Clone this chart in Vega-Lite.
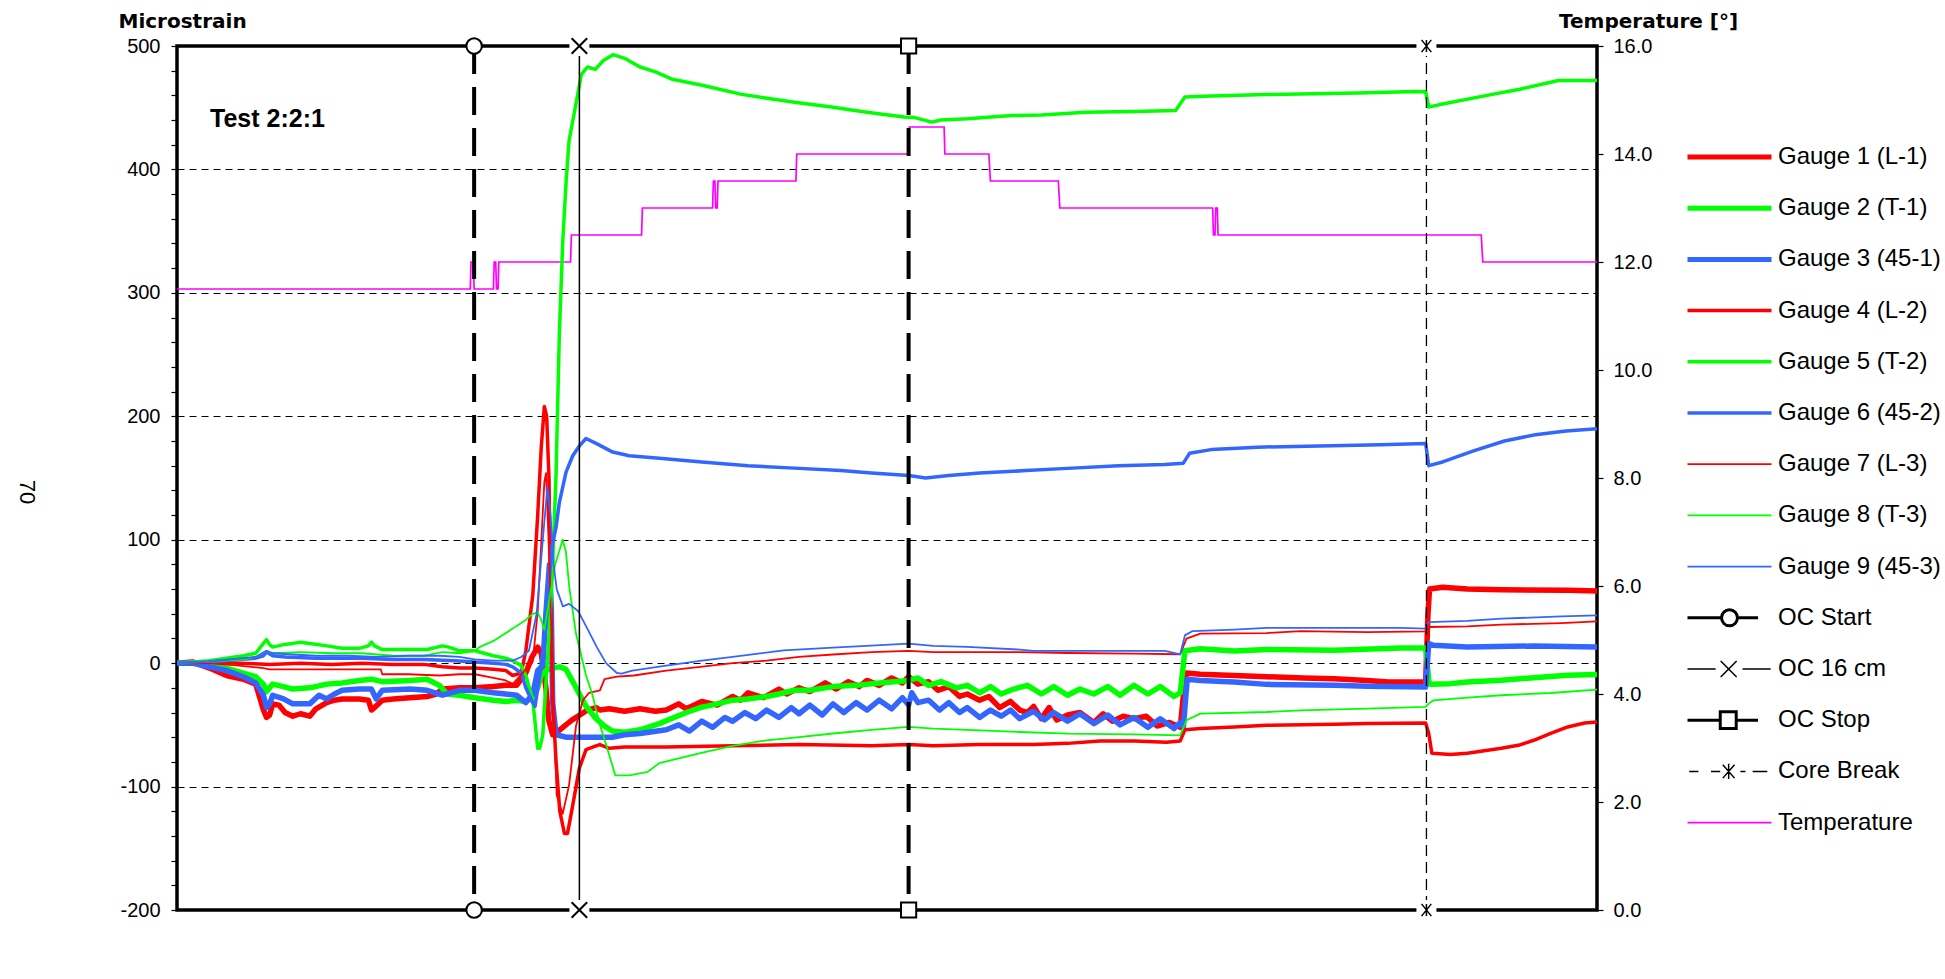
{
"$schema": "https://vega.github.io/schema/vega-lite/v6.json",
"width": 1420, "height": 864,
"autosize": {"type": "none"},
"padding": {"left": 177, "top": 46, "right": 348, "bottom": 69},
"background": "white",
"title": {"text": "70", "orient": "left", "anchor": "middle", "angle": 90, "baseline": "middle", "fontSize": 22, "font": "Liberation Sans", "fontWeight": "normal", "color": "black", "offset": 69, "dx": 14, "dy": 0},
"config": {
  "view": {"stroke": "black", "strokeWidth": 3.5},
  "font": "Liberation Sans",
  "axis": {"domain": false, "labelFont": "Liberation Sans", "labelFontSize": 20, "labelColor": "black", "tickColor": "black", "tickWidth": 1.2, "titleColor": "black"}
},
"data": {"name": "gauges"},
"datasets": {
"events": [{"series":"OC Start","t":477.25},{"series":"OC 16 cm","t":484.07},{"series":"OC Stop","t":505.4},{"series":"Core Break","t":538.95}],
"legend": [{"series":"Gauge 1 (L-1)"},{"series":"Gauge 2 (T-1)"},{"series":"Gauge 3 (45-1)"},{"series":"Gauge 4 (L-2)"},{"series":"Gauge 5 (T-2)"},{"series":"Gauge 6 (45-2)"},{"series":"Gauge 7 (L-3)"},{"series":"Gauge 8 (T-3)"},{"series":"Gauge 9 (45-3)"},{"series":"OC Start"},{"series":"OC 16 cm"},{"series":"OC Stop"},{"series":"Core Break"},{"series":"Temperature"}],
"temp": [{"t":458,"T":11.5},{"t":477.0,"T":11.5},{"t":477.05,"T":12.0},{"t":477.2,"T":12.0},{"t":477.25,"T":11.5},{"t":478.5,"T":11.5},{"t":478.55,"T":12.0},{"t":478.65,"T":12.0},{"t":478.7,"T":11.5},{"t":478.8,"T":11.5},{"t":478.85,"T":12.0},{"t":483.5,"T":12.0},{"t":483.55,"T":12.5},{"t":488.1,"T":12.5},{"t":488.15,"T":13.0},{"t":492.7,"T":13.0},{"t":492.75,"T":13.5},{"t":492.85,"T":13.5},{"t":492.9,"T":13.0},{"t":493.0,"T":13.0},{"t":493.05,"T":13.5},{"t":498.1,"T":13.5},{"t":498.15,"T":14.0},{"t":505.4,"T":14.0},{"t":505.45,"T":14.5},{"t":507.7,"T":14.5},{"t":507.75,"T":14.0},{"t":510.6,"T":14.0},{"t":510.7,"T":13.5},{"t":515.1,"T":13.5},{"t":515.2,"T":13.0},{"t":525.1,"T":13.0},{"t":525.15,"T":12.5},{"t":525.25,"T":12.5},{"t":525.3,"T":13.0},{"t":525.4,"T":13.0},{"t":525.45,"T":12.5},{"t":542.5,"T":12.5},{"t":542.6,"T":12.0},{"t":550,"T":12.0}],
"gauges": [
{"series":"Gauge 1 (L-1)","t":458,"v":0},{"series":"Gauge 1 (L-1)","t":459,"v":1},{"series":"Gauge 1 (L-1)","t":460.1,"v":-4},{"series":"Gauge 1 (L-1)","t":461.2,"v":-10},{"series":"Gauge 1 (L-1)","t":462.3,"v":-13},{"series":"Gauge 1 (L-1)","t":463.1,"v":-17},{"series":"Gauge 1 (L-1)","t":463.6,"v":-38},{"series":"Gauge 1 (L-1)","t":463.8,"v":-44},{"series":"Gauge 1 (L-1)","t":464.0,"v":-42},{"series":"Gauge 1 (L-1)","t":464.2,"v":-33},{"series":"Gauge 1 (L-1)","t":464.6,"v":-34},{"series":"Gauge 1 (L-1)","t":465.0,"v":-40},{"series":"Gauge 1 (L-1)","t":465.5,"v":-43},{"series":"Gauge 1 (L-1)","t":466.0,"v":-41},{"series":"Gauge 1 (L-1)","t":466.6,"v":-43},{"series":"Gauge 1 (L-1)","t":467.0,"v":-37},{"series":"Gauge 1 (L-1)","t":467.7,"v":-32},{"series":"Gauge 1 (L-1)","t":468.2,"v":-30},{"series":"Gauge 1 (L-1)","t":468.7,"v":-29},{"series":"Gauge 1 (L-1)","t":469.8,"v":-29},{"series":"Gauge 1 (L-1)","t":470.4,"v":-30},{"series":"Gauge 1 (L-1)","t":470.6,"v":-38},{"series":"Gauge 1 (L-1)","t":470.8,"v":-36},{"series":"Gauge 1 (L-1)","t":471.3,"v":-30},{"series":"Gauge 1 (L-1)","t":472.0,"v":-29},{"series":"Gauge 1 (L-1)","t":473.1,"v":-28},{"series":"Gauge 1 (L-1)","t":474.2,"v":-27},{"series":"Gauge 1 (L-1)","t":474.8,"v":-25},{"series":"Gauge 1 (L-1)","t":475.2,"v":-21},{"series":"Gauge 1 (L-1)","t":476.3,"v":-20},{"series":"Gauge 1 (L-1)","t":477.3,"v":-20},{"series":"Gauge 1 (L-1)","t":478.5,"v":-19},{"series":"Gauge 1 (L-1)","t":479.3,"v":-18},{"series":"Gauge 1 (L-1)","t":480.0,"v":-18},{"series":"Gauge 1 (L-1)","t":480.6,"v":-8},{"series":"Gauge 1 (L-1)","t":481.0,"v":5},{"series":"Gauge 1 (L-1)","t":481.37,"v":13},{"series":"Gauge 1 (L-1)","t":481.6,"v":8},{"series":"Gauge 1 (L-1)","t":481.9,"v":-20},{"series":"Gauge 1 (L-1)","t":482.1,"v":-47},{"series":"Gauge 1 (L-1)","t":482.34,"v":-58},{"series":"Gauge 1 (L-1)","t":482.7,"v":-55},{"series":"Gauge 1 (L-1)","t":483.2,"v":-50},{"series":"Gauge 1 (L-1)","t":483.6,"v":-46},{"series":"Gauge 1 (L-1)","t":484.1,"v":-42},{"series":"Gauge 1 (L-1)","t":484.6,"v":-38},{"series":"Gauge 1 (L-1)","t":485.15,"v":-36},{"series":"Gauge 1 (L-1)","t":485.4,"v":-38},{"series":"Gauge 1 (L-1)","t":486.0,"v":-37},{"series":"Gauge 1 (L-1)","t":487.0,"v":-39},{"series":"Gauge 1 (L-1)","t":488.0,"v":-37},{"series":"Gauge 1 (L-1)","t":489.0,"v":-39},{"series":"Gauge 1 (L-1)","t":489.7,"v":-38},{"series":"Gauge 1 (L-1)","t":490.5,"v":-33},{"series":"Gauge 1 (L-1)","t":491.0,"v":-37},{"series":"Gauge 1 (L-1)","t":492.0,"v":-31},{"series":"Gauge 1 (L-1)","t":493.0,"v":-34},{"series":"Gauge 1 (L-1)","t":494.0,"v":-27},{"series":"Gauge 1 (L-1)","t":494.5,"v":-30},{"series":"Gauge 1 (L-1)","t":495.0,"v":-24},{"series":"Gauge 1 (L-1)","t":496.0,"v":-28},{"series":"Gauge 1 (L-1)","t":497.0,"v":-21},{"series":"Gauge 1 (L-1)","t":497.5,"v":-25},{"series":"Gauge 1 (L-1)","t":498.3,"v":-20},{"series":"Gauge 1 (L-1)","t":499.0,"v":-23},{"series":"Gauge 1 (L-1)","t":500.0,"v":-16},{"series":"Gauge 1 (L-1)","t":500.7,"v":-21},{"series":"Gauge 1 (L-1)","t":501.5,"v":-15},{"series":"Gauge 1 (L-1)","t":502.2,"v":-19},{"series":"Gauge 1 (L-1)","t":502.7,"v":-14},{"series":"Gauge 1 (L-1)","t":503.5,"v":-18},{"series":"Gauge 1 (L-1)","t":504.3,"v":-12},{"series":"Gauge 1 (L-1)","t":505.0,"v":-16},{"series":"Gauge 1 (L-1)","t":505.4,"v":-11},{"series":"Gauge 1 (L-1)","t":506.0,"v":-17},{"series":"Gauge 1 (L-1)","t":506.7,"v":-15},{"series":"Gauge 1 (L-1)","t":507.3,"v":-22},{"series":"Gauge 1 (L-1)","t":508.0,"v":-19},{"series":"Gauge 1 (L-1)","t":508.7,"v":-27},{"series":"Gauge 1 (L-1)","t":509.2,"v":-25},{"series":"Gauge 1 (L-1)","t":510.0,"v":-30},{"series":"Gauge 1 (L-1)","t":510.6,"v":-27},{"series":"Gauge 1 (L-1)","t":511.3,"v":-36},{"series":"Gauge 1 (L-1)","t":512.0,"v":-31},{"series":"Gauge 1 (L-1)","t":512.6,"v":-38},{"series":"Gauge 1 (L-1)","t":513.1,"v":-40},{"series":"Gauge 1 (L-1)","t":513.5,"v":-35},{"series":"Gauge 1 (L-1)","t":514.0,"v":-45},{"series":"Gauge 1 (L-1)","t":514.5,"v":-36},{"series":"Gauge 1 (L-1)","t":515.0,"v":-46},{"series":"Gauge 1 (L-1)","t":515.7,"v":-42},{"series":"Gauge 1 (L-1)","t":516.5,"v":-40},{"series":"Gauge 1 (L-1)","t":517.4,"v":-48},{"series":"Gauge 1 (L-1)","t":518.0,"v":-41},{"series":"Gauge 1 (L-1)","t":518.6,"v":-47},{"series":"Gauge 1 (L-1)","t":519.3,"v":-43},{"series":"Gauge 1 (L-1)","t":520.0,"v":-45},{"series":"Gauge 1 (L-1)","t":520.8,"v":-43},{"series":"Gauge 1 (L-1)","t":521.5,"v":-51},{"series":"Gauge 1 (L-1)","t":522.3,"v":-48},{"series":"Gauge 1 (L-1)","t":523.0,"v":-52},{"series":"Gauge 1 (L-1)","t":523.25,"v":-20},{"series":"Gauge 1 (L-1)","t":523.4,"v":-8},{"series":"Gauge 1 (L-1)","t":524.3,"v":-9},{"series":"Gauge 1 (L-1)","t":526.5,"v":-10},{"series":"Gauge 1 (L-1)","t":528.6,"v":-11},{"series":"Gauge 1 (L-1)","t":531,"v":-12},{"series":"Gauge 1 (L-1)","t":533,"v":-12.6},{"series":"Gauge 1 (L-1)","t":535.1,"v":-14},{"series":"Gauge 1 (L-1)","t":536.5,"v":-15.3},{"series":"Gauge 1 (L-1)","t":538.9,"v":-15.3},{"series":"Gauge 1 (L-1)","t":539.05,"v":40},{"series":"Gauge 1 (L-1)","t":539.15,"v":60},{"series":"Gauge 1 (L-1)","t":540,"v":61.5},{"series":"Gauge 1 (L-1)","t":541.6,"v":60},{"series":"Gauge 1 (L-1)","t":543.8,"v":59.5},{"series":"Gauge 1 (L-1)","t":548.1,"v":59},{"series":"Gauge 1 (L-1)","t":550,"v":58.5},
{"series":"Gauge 2 (T-1)","t":458,"v":0},{"series":"Gauge 2 (T-1)","t":459,"v":0},{"series":"Gauge 2 (T-1)","t":460.1,"v":-1},{"series":"Gauge 2 (T-1)","t":461.2,"v":-4},{"series":"Gauge 2 (T-1)","t":462.3,"v":-8},{"series":"Gauge 2 (T-1)","t":463.1,"v":-11},{"series":"Gauge 2 (T-1)","t":463.6,"v":-17},{"series":"Gauge 2 (T-1)","t":463.8,"v":-23},{"series":"Gauge 2 (T-1)","t":464.2,"v":-17},{"series":"Gauge 2 (T-1)","t":464.9,"v":-19},{"series":"Gauge 2 (T-1)","t":465.5,"v":-21},{"series":"Gauge 2 (T-1)","t":466.6,"v":-20},{"series":"Gauge 2 (T-1)","t":467.7,"v":-17},{"series":"Gauge 2 (T-1)","t":468.7,"v":-16},{"series":"Gauge 2 (T-1)","t":469.8,"v":-14},{"series":"Gauge 2 (T-1)","t":470.6,"v":-13},{"series":"Gauge 2 (T-1)","t":471.3,"v":-15},{"series":"Gauge 2 (T-1)","t":473.1,"v":-14},{"series":"Gauge 2 (T-1)","t":474.2,"v":-13},{"series":"Gauge 2 (T-1)","t":475.0,"v":-18},{"series":"Gauge 2 (T-1)","t":475.5,"v":-25},{"series":"Gauge 2 (T-1)","t":476.3,"v":-26},{"series":"Gauge 2 (T-1)","t":477.3,"v":-28},{"series":"Gauge 2 (T-1)","t":478.5,"v":-30},{"series":"Gauge 2 (T-1)","t":479.3,"v":-31},{"series":"Gauge 2 (T-1)","t":480.0,"v":-30},{"series":"Gauge 2 (T-1)","t":480.6,"v":-31},{"series":"Gauge 2 (T-1)","t":481.05,"v":-28},{"series":"Gauge 2 (T-1)","t":481.37,"v":-20},{"series":"Gauge 2 (T-1)","t":481.6,"v":-10},{"series":"Gauge 2 (T-1)","t":481.9,"v":-6},{"series":"Gauge 2 (T-1)","t":482.3,"v":-4},{"series":"Gauge 2 (T-1)","t":482.8,"v":-3},{"series":"Gauge 2 (T-1)","t":483.2,"v":-5},{"series":"Gauge 2 (T-1)","t":483.64,"v":-15},{"series":"Gauge 2 (T-1)","t":484.07,"v":-25},{"series":"Gauge 2 (T-1)","t":484.5,"v":-35},{"series":"Gauge 2 (T-1)","t":485.15,"v":-45},{"series":"Gauge 2 (T-1)","t":485.7,"v":-51},{"series":"Gauge 2 (T-1)","t":486.2,"v":-55},{"series":"Gauge 2 (T-1)","t":487.0,"v":-56},{"series":"Gauge 2 (T-1)","t":488.0,"v":-54},{"series":"Gauge 2 (T-1)","t":489.25,"v":-49},{"series":"Gauge 2 (T-1)","t":490.0,"v":-45},{"series":"Gauge 2 (T-1)","t":491.0,"v":-40},{"series":"Gauge 2 (T-1)","t":491.9,"v":-36},{"series":"Gauge 2 (T-1)","t":493.0,"v":-33},{"series":"Gauge 2 (T-1)","t":494.0,"v":-30},{"series":"Gauge 2 (T-1)","t":495.0,"v":-29},{"series":"Gauge 2 (T-1)","t":496.2,"v":-27},{"series":"Gauge 2 (T-1)","t":497.0,"v":-25},{"series":"Gauge 2 (T-1)","t":498.0,"v":-22},{"series":"Gauge 2 (T-1)","t":499.0,"v":-22},{"series":"Gauge 2 (T-1)","t":500.5,"v":-19},{"series":"Gauge 2 (T-1)","t":502.0,"v":-18},{"series":"Gauge 2 (T-1)","t":503.5,"v":-16},{"series":"Gauge 2 (T-1)","t":505.4,"v":-14},{"series":"Gauge 2 (T-1)","t":506.0,"v":-12},{"series":"Gauge 2 (T-1)","t":506.7,"v":-18},{"series":"Gauge 2 (T-1)","t":507.5,"v":-15},{"series":"Gauge 2 (T-1)","t":508.5,"v":-20},{"series":"Gauge 2 (T-1)","t":509.2,"v":-18},{"series":"Gauge 2 (T-1)","t":510.0,"v":-24},{"series":"Gauge 2 (T-1)","t":510.7,"v":-19},{"series":"Gauge 2 (T-1)","t":511.4,"v":-25},{"series":"Gauge 2 (T-1)","t":512.2,"v":-21},{"series":"Gauge 2 (T-1)","t":513.1,"v":-18},{"series":"Gauge 2 (T-1)","t":514.0,"v":-25},{"series":"Gauge 2 (T-1)","t":514.8,"v":-19},{"series":"Gauge 2 (T-1)","t":515.7,"v":-26},{"series":"Gauge 2 (T-1)","t":516.5,"v":-21},{"series":"Gauge 2 (T-1)","t":517.4,"v":-25},{"series":"Gauge 2 (T-1)","t":518.3,"v":-19},{"series":"Gauge 2 (T-1)","t":519.1,"v":-26},{"series":"Gauge 2 (T-1)","t":520.0,"v":-18},{"series":"Gauge 2 (T-1)","t":520.9,"v":-25},{"series":"Gauge 2 (T-1)","t":521.7,"v":-19},{"series":"Gauge 2 (T-1)","t":522.6,"v":-27},{"series":"Gauge 2 (T-1)","t":523.0,"v":-24},{"series":"Gauge 2 (T-1)","t":523.3,"v":10},{"series":"Gauge 2 (T-1)","t":524.3,"v":11.7},{"series":"Gauge 2 (T-1)","t":526.5,"v":9.9},{"series":"Gauge 2 (T-1)","t":528.6,"v":11},{"series":"Gauge 2 (T-1)","t":533.0,"v":10.4},{"series":"Gauge 2 (T-1)","t":537.3,"v":12.3},{"series":"Gauge 2 (T-1)","t":538.9,"v":12.3},{"series":"Gauge 2 (T-1)","t":539.1,"v":-14},{"series":"Gauge 2 (T-1)","t":539.2,"v":-17.2},{"series":"Gauge 2 (T-1)","t":540.5,"v":-16.6},{"series":"Gauge 2 (T-1)","t":541.6,"v":-15.3},{"series":"Gauge 2 (T-1)","t":543.8,"v":-13.9},{"series":"Gauge 2 (T-1)","t":545.9,"v":-11.8},{"series":"Gauge 2 (T-1)","t":548.1,"v":-9.9},{"series":"Gauge 2 (T-1)","t":550,"v":-9.3},
{"series":"Gauge 3 (45-1)","t":458,"v":0},{"series":"Gauge 3 (45-1)","t":459,"v":0},{"series":"Gauge 3 (45-1)","t":460.1,"v":-3},{"series":"Gauge 3 (45-1)","t":461.2,"v":-6},{"series":"Gauge 3 (45-1)","t":462.3,"v":-11},{"series":"Gauge 3 (45-1)","t":463.1,"v":-16},{"series":"Gauge 3 (45-1)","t":463.6,"v":-26},{"series":"Gauge 3 (45-1)","t":463.8,"v":-36},{"series":"Gauge 3 (45-1)","t":464.0,"v":-33},{"series":"Gauge 3 (45-1)","t":464.2,"v":-26},{"series":"Gauge 3 (45-1)","t":464.9,"v":-29},{"series":"Gauge 3 (45-1)","t":465.5,"v":-33},{"series":"Gauge 3 (45-1)","t":466.6,"v":-33},{"series":"Gauge 3 (45-1)","t":467.2,"v":-26},{"series":"Gauge 3 (45-1)","t":467.7,"v":-29},{"series":"Gauge 3 (45-1)","t":468.2,"v":-25},{"series":"Gauge 3 (45-1)","t":468.7,"v":-22},{"series":"Gauge 3 (45-1)","t":469.8,"v":-21},{"series":"Gauge 3 (45-1)","t":470.6,"v":-21},{"series":"Gauge 3 (45-1)","t":470.9,"v":-29},{"series":"Gauge 3 (45-1)","t":471.3,"v":-22},{"series":"Gauge 3 (45-1)","t":473.1,"v":-21},{"series":"Gauge 3 (45-1)","t":474.2,"v":-22},{"series":"Gauge 3 (45-1)","t":475.2,"v":-26},{"series":"Gauge 3 (45-1)","t":476.3,"v":-22},{"series":"Gauge 3 (45-1)","t":477.3,"v":-22},{"series":"Gauge 3 (45-1)","t":478.5,"v":-24},{"series":"Gauge 3 (45-1)","t":479.3,"v":-25},{"series":"Gauge 3 (45-1)","t":480.0,"v":-26},{"series":"Gauge 3 (45-1)","t":480.6,"v":-32},{"series":"Gauge 3 (45-1)","t":481.05,"v":-25},{"series":"Gauge 3 (45-1)","t":481.37,"v":-6},{"series":"Gauge 3 (45-1)","t":481.7,"v":-2},{"series":"Gauge 3 (45-1)","t":481.9,"v":40},{"series":"Gauge 3 (45-1)","t":482.13,"v":80},{"series":"Gauge 3 (45-1)","t":482.25,"v":45},{"series":"Gauge 3 (45-1)","t":482.34,"v":-32},{"series":"Gauge 3 (45-1)","t":482.56,"v":-58},{"series":"Gauge 3 (45-1)","t":483.2,"v":-60},{"series":"Gauge 3 (45-1)","t":484.07,"v":-60},{"series":"Gauge 3 (45-1)","t":485.4,"v":-60},{"series":"Gauge 3 (45-1)","t":486.2,"v":-60},{"series":"Gauge 3 (45-1)","t":487.0,"v":-58},{"series":"Gauge 3 (45-1)","t":488.0,"v":-57},{"series":"Gauge 3 (45-1)","t":489.7,"v":-54},{"series":"Gauge 3 (45-1)","t":490.5,"v":-50},{"series":"Gauge 3 (45-1)","t":491.2,"v":-55},{"series":"Gauge 3 (45-1)","t":492.0,"v":-47},{"series":"Gauge 3 (45-1)","t":492.7,"v":-52},{"series":"Gauge 3 (45-1)","t":493.5,"v":-44},{"series":"Gauge 3 (45-1)","t":494.0,"v":-47},{"series":"Gauge 3 (45-1)","t":494.8,"v":-40},{"series":"Gauge 3 (45-1)","t":495.5,"v":-45},{"series":"Gauge 3 (45-1)","t":496.2,"v":-38},{"series":"Gauge 3 (45-1)","t":497.0,"v":-44},{"series":"Gauge 3 (45-1)","t":497.8,"v":-36},{"series":"Gauge 3 (45-1)","t":498.3,"v":-41},{"series":"Gauge 3 (45-1)","t":499.0,"v":-34},{"series":"Gauge 3 (45-1)","t":499.8,"v":-42},{"series":"Gauge 3 (45-1)","t":500.5,"v":-33},{"series":"Gauge 3 (45-1)","t":501.2,"v":-40},{"series":"Gauge 3 (45-1)","t":502.0,"v":-32},{"series":"Gauge 3 (45-1)","t":502.7,"v":-38},{"series":"Gauge 3 (45-1)","t":503.5,"v":-30},{"series":"Gauge 3 (45-1)","t":504.3,"v":-37},{"series":"Gauge 3 (45-1)","t":505.0,"v":-28},{"series":"Gauge 3 (45-1)","t":505.4,"v":-34},{"series":"Gauge 3 (45-1)","t":505.6,"v":-24},{"series":"Gauge 3 (45-1)","t":506.0,"v":-32},{"series":"Gauge 3 (45-1)","t":506.7,"v":-30},{"series":"Gauge 3 (45-1)","t":507.4,"v":-38},{"series":"Gauge 3 (45-1)","t":508.0,"v":-32},{"series":"Gauge 3 (45-1)","t":508.7,"v":-40},{"series":"Gauge 3 (45-1)","t":509.2,"v":-36},{"series":"Gauge 3 (45-1)","t":510.0,"v":-44},{"series":"Gauge 3 (45-1)","t":510.7,"v":-38},{"series":"Gauge 3 (45-1)","t":511.4,"v":-43},{"series":"Gauge 3 (45-1)","t":512.0,"v":-38},{"series":"Gauge 3 (45-1)","t":512.6,"v":-45},{"series":"Gauge 3 (45-1)","t":513.5,"v":-39},{"series":"Gauge 3 (45-1)","t":514.2,"v":-46},{"series":"Gauge 3 (45-1)","t":514.8,"v":-40},{"series":"Gauge 3 (45-1)","t":515.7,"v":-47},{"series":"Gauge 3 (45-1)","t":516.5,"v":-41},{"series":"Gauge 3 (45-1)","t":517.4,"v":-49},{"series":"Gauge 3 (45-1)","t":518.3,"v":-42},{"series":"Gauge 3 (45-1)","t":519.1,"v":-50},{"series":"Gauge 3 (45-1)","t":520.0,"v":-44},{"series":"Gauge 3 (45-1)","t":520.9,"v":-52},{"series":"Gauge 3 (45-1)","t":521.7,"v":-45},{"series":"Gauge 3 (45-1)","t":522.6,"v":-53},{"series":"Gauge 3 (45-1)","t":523.0,"v":-48},{"series":"Gauge 3 (45-1)","t":523.2,"v":-52},{"series":"Gauge 3 (45-1)","t":523.45,"v":-13},{"series":"Gauge 3 (45-1)","t":524.3,"v":-14},{"series":"Gauge 3 (45-1)","t":526.5,"v":-15.3},{"series":"Gauge 3 (45-1)","t":528.6,"v":-17.2},{"series":"Gauge 3 (45-1)","t":533.0,"v":-18},{"series":"Gauge 3 (45-1)","t":535.1,"v":-18.8},{"series":"Gauge 3 (45-1)","t":538.9,"v":-19.3},{"series":"Gauge 3 (45-1)","t":539.1,"v":15.8},{"series":"Gauge 3 (45-1)","t":539.4,"v":14.4},{"series":"Gauge 3 (45-1)","t":541.6,"v":13.1},{"series":"Gauge 3 (45-1)","t":545.9,"v":13.9},{"series":"Gauge 3 (45-1)","t":550,"v":13.1},
{"series":"Gauge 4 (L-2)","t":458,"v":0},{"series":"Gauge 4 (L-2)","t":460,"v":1},{"series":"Gauge 4 (L-2)","t":462,"v":0},{"series":"Gauge 4 (L-2)","t":464,"v":-1},{"series":"Gauge 4 (L-2)","t":466,"v":0},{"series":"Gauge 4 (L-2)","t":468,"v":-1},{"series":"Gauge 4 (L-2)","t":470,"v":0},{"series":"Gauge 4 (L-2)","t":472,"v":-1},{"series":"Gauge 4 (L-2)","t":474,"v":-1},{"series":"Gauge 4 (L-2)","t":475.2,"v":-3},{"series":"Gauge 4 (L-2)","t":476.3,"v":-4},{"series":"Gauge 4 (L-2)","t":477.3,"v":-4},{"series":"Gauge 4 (L-2)","t":478.5,"v":-5},{"series":"Gauge 4 (L-2)","t":479.3,"v":-6},{"series":"Gauge 4 (L-2)","t":479.75,"v":-10},{"series":"Gauge 4 (L-2)","t":480.3,"v":-8},{"series":"Gauge 4 (L-2)","t":480.6,"v":10},{"series":"Gauge 4 (L-2)","t":481.05,"v":55},{"series":"Gauge 4 (L-2)","t":481.37,"v":120},{"series":"Gauge 4 (L-2)","t":481.6,"v":175},{"series":"Gauge 4 (L-2)","t":481.8,"v":208},{"series":"Gauge 4 (L-2)","t":481.95,"v":200},{"series":"Gauge 4 (L-2)","t":482.1,"v":150},{"series":"Gauge 4 (L-2)","t":482.2,"v":60},{"series":"Gauge 4 (L-2)","t":482.34,"v":-30},{"series":"Gauge 4 (L-2)","t":482.56,"v":-80},{"series":"Gauge 4 (L-2)","t":482.8,"v":-120},{"series":"Gauge 4 (L-2)","t":483.1,"v":-138},{"series":"Gauge 4 (L-2)","t":483.3,"v":-138},{"series":"Gauge 4 (L-2)","t":483.64,"v":-115},{"series":"Gauge 4 (L-2)","t":484.07,"v":-85},{"series":"Gauge 4 (L-2)","t":484.5,"v":-70},{"series":"Gauge 4 (L-2)","t":485.15,"v":-67},{"series":"Gauge 4 (L-2)","t":485.4,"v":-66},{"series":"Gauge 4 (L-2)","t":486.0,"v":-69},{"series":"Gauge 4 (L-2)","t":487.0,"v":-68},{"series":"Gauge 4 (L-2)","t":489.7,"v":-68},{"series":"Gauge 4 (L-2)","t":494.0,"v":-67},{"series":"Gauge 4 (L-2)","t":498.3,"v":-66},{"series":"Gauge 4 (L-2)","t":503.0,"v":-67},{"series":"Gauge 4 (L-2)","t":505.4,"v":-66},{"series":"Gauge 4 (L-2)","t":507.0,"v":-67},{"series":"Gauge 4 (L-2)","t":510.0,"v":-66},{"series":"Gauge 4 (L-2)","t":513.5,"v":-66},{"series":"Gauge 4 (L-2)","t":515.7,"v":-65},{"series":"Gauge 4 (L-2)","t":517.8,"v":-63},{"series":"Gauge 4 (L-2)","t":520.0,"v":-63},{"series":"Gauge 4 (L-2)","t":522.1,"v":-64},{"series":"Gauge 4 (L-2)","t":523.0,"v":-63},{"series":"Gauge 4 (L-2)","t":523.3,"v":-54},{"series":"Gauge 4 (L-2)","t":524.3,"v":-53},{"series":"Gauge 4 (L-2)","t":526.5,"v":-51.7},{"series":"Gauge 4 (L-2)","t":528.6,"v":-50.4},{"series":"Gauge 4 (L-2)","t":533.0,"v":-49.6},{"series":"Gauge 4 (L-2)","t":535.1,"v":-49},{"series":"Gauge 4 (L-2)","t":538.9,"v":-48.5},{"series":"Gauge 4 (L-2)","t":539.1,"v":-57},{"series":"Gauge 4 (L-2)","t":539.3,"v":-73},{"series":"Gauge 4 (L-2)","t":540.5,"v":-74},{"series":"Gauge 4 (L-2)","t":541.6,"v":-73},{"series":"Gauge 4 (L-2)","t":543.8,"v":-69},{"series":"Gauge 4 (L-2)","t":544.9,"v":-66.6},{"series":"Gauge 4 (L-2)","t":545.9,"v":-62.5},{"series":"Gauge 4 (L-2)","t":547.0,"v":-57},{"series":"Gauge 4 (L-2)","t":548.1,"v":-51.7},{"series":"Gauge 4 (L-2)","t":549.2,"v":-48.5},{"series":"Gauge 4 (L-2)","t":550,"v":-47.7},
{"series":"Gauge 5 (T-2)","t":458,"v":0},{"series":"Gauge 5 (T-2)","t":460.1,"v":2},{"series":"Gauge 5 (T-2)","t":461.2,"v":4},{"series":"Gauge 5 (T-2)","t":462.3,"v":6},{"series":"Gauge 5 (T-2)","t":463.1,"v":8},{"series":"Gauge 5 (T-2)","t":463.6,"v":16},{"series":"Gauge 5 (T-2)","t":463.8,"v":19},{"series":"Gauge 5 (T-2)","t":464.0,"v":15},{"series":"Gauge 5 (T-2)","t":464.2,"v":13},{"series":"Gauge 5 (T-2)","t":464.9,"v":15},{"series":"Gauge 5 (T-2)","t":465.5,"v":16},{"series":"Gauge 5 (T-2)","t":466.0,"v":17},{"series":"Gauge 5 (T-2)","t":466.6,"v":16},{"series":"Gauge 5 (T-2)","t":467.7,"v":14},{"series":"Gauge 5 (T-2)","t":468.7,"v":12},{"series":"Gauge 5 (T-2)","t":469.8,"v":12},{"series":"Gauge 5 (T-2)","t":470.4,"v":14},{"series":"Gauge 5 (T-2)","t":470.6,"v":17},{"series":"Gauge 5 (T-2)","t":470.8,"v":14},{"series":"Gauge 5 (T-2)","t":471.3,"v":11},{"series":"Gauge 5 (T-2)","t":473.1,"v":11},{"series":"Gauge 5 (T-2)","t":474.2,"v":11},{"series":"Gauge 5 (T-2)","t":475.2,"v":14},{"series":"Gauge 5 (T-2)","t":475.6,"v":13},{"series":"Gauge 5 (T-2)","t":476.3,"v":10},{"series":"Gauge 5 (T-2)","t":477.3,"v":10},{"series":"Gauge 5 (T-2)","t":477.6,"v":9},{"series":"Gauge 5 (T-2)","t":478.5,"v":6},{"series":"Gauge 5 (T-2)","t":479.3,"v":4},{"series":"Gauge 5 (T-2)","t":479.75,"v":2},{"series":"Gauge 5 (T-2)","t":480.3,"v":-2},{"series":"Gauge 5 (T-2)","t":480.6,"v":-10},{"series":"Gauge 5 (T-2)","t":481.05,"v":-30},{"series":"Gauge 5 (T-2)","t":481.37,"v":-69},{"series":"Gauge 5 (T-2)","t":481.5,"v":-69},{"series":"Gauge 5 (T-2)","t":481.7,"v":-58},{"series":"Gauge 5 (T-2)","t":481.9,"v":-17},{"series":"Gauge 5 (T-2)","t":482.13,"v":28},{"series":"Gauge 5 (T-2)","t":482.34,"v":80},{"series":"Gauge 5 (T-2)","t":482.56,"v":154},{"series":"Gauge 5 (T-2)","t":482.77,"v":266},{"series":"Gauge 5 (T-2)","t":482.99,"v":341},{"series":"Gauge 5 (T-2)","t":483.21,"v":390},{"series":"Gauge 5 (T-2)","t":483.4,"v":423},{"series":"Gauge 5 (T-2)","t":483.8,"v":450},{"series":"Gauge 5 (T-2)","t":484.2,"v":477},{"series":"Gauge 5 (T-2)","t":484.6,"v":483},{"series":"Gauge 5 (T-2)","t":485.1,"v":481},{"series":"Gauge 5 (T-2)","t":485.6,"v":488},{"series":"Gauge 5 (T-2)","t":486.25,"v":493},{"series":"Gauge 5 (T-2)","t":487.0,"v":490},{"series":"Gauge 5 (T-2)","t":488.0,"v":483},{"series":"Gauge 5 (T-2)","t":489.0,"v":479},{"series":"Gauge 5 (T-2)","t":490.1,"v":473},{"series":"Gauge 5 (T-2)","t":492.1,"v":468},{"series":"Gauge 5 (T-2)","t":494.5,"v":461},{"series":"Gauge 5 (T-2)","t":496.0,"v":458},{"series":"Gauge 5 (T-2)","t":498.0,"v":454.5},{"series":"Gauge 5 (T-2)","t":500.4,"v":450.5},{"series":"Gauge 5 (T-2)","t":502.7,"v":446.4},{"series":"Gauge 5 (T-2)","t":505.1,"v":442.4},{"series":"Gauge 5 (T-2)","t":505.8,"v":442},{"series":"Gauge 5 (T-2)","t":506.9,"v":438.3},{"series":"Gauge 5 (T-2)","t":507.5,"v":440},{"series":"Gauge 5 (T-2)","t":509.2,"v":441},{"series":"Gauge 5 (T-2)","t":512.1,"v":443.7},{"series":"Gauge 5 (T-2)","t":514.0,"v":444},{"series":"Gauge 5 (T-2)","t":516.9,"v":446.4},{"series":"Gauge 5 (T-2)","t":520.0,"v":447},{"series":"Gauge 5 (T-2)","t":522.7,"v":447.8},{"series":"Gauge 5 (T-2)","t":523.3,"v":458.6},{"series":"Gauge 5 (T-2)","t":525.0,"v":459.5},{"series":"Gauge 5 (T-2)","t":528.6,"v":460.7},{"series":"Gauge 5 (T-2)","t":534.5,"v":462},{"series":"Gauge 5 (T-2)","t":538.3,"v":463.2},{"series":"Gauge 5 (T-2)","t":538.9,"v":463},{"series":"Gauge 5 (T-2)","t":539.1,"v":450.5},{"series":"Gauge 5 (T-2)","t":540.0,"v":453},{"series":"Gauge 5 (T-2)","t":543.3,"v":461},{"series":"Gauge 5 (T-2)","t":545.0,"v":465},{"series":"Gauge 5 (T-2)","t":547.5,"v":472},{"series":"Gauge 5 (T-2)","t":550,"v":472},
{"series":"Gauge 6 (45-2)","t":458,"v":0},{"series":"Gauge 6 (45-2)","t":460,"v":1},{"series":"Gauge 6 (45-2)","t":462,"v":3},{"series":"Gauge 6 (45-2)","t":463.1,"v":4},{"series":"Gauge 6 (45-2)","t":463.6,"v":6},{"series":"Gauge 6 (45-2)","t":463.8,"v":9},{"series":"Gauge 6 (45-2)","t":464.2,"v":6},{"series":"Gauge 6 (45-2)","t":465,"v":5},{"series":"Gauge 6 (45-2)","t":467,"v":4},{"series":"Gauge 6 (45-2)","t":470,"v":4},{"series":"Gauge 6 (45-2)","t":472,"v":3},{"series":"Gauge 6 (45-2)","t":474,"v":3},{"series":"Gauge 6 (45-2)","t":476,"v":2},{"series":"Gauge 6 (45-2)","t":477.3,"v":1},{"series":"Gauge 6 (45-2)","t":478.5,"v":0},{"series":"Gauge 6 (45-2)","t":479.3,"v":-1},{"series":"Gauge 6 (45-2)","t":479.75,"v":-3},{"series":"Gauge 6 (45-2)","t":480.3,"v":-8},{"series":"Gauge 6 (45-2)","t":480.6,"v":-20},{"series":"Gauge 6 (45-2)","t":481.05,"v":-32},{"series":"Gauge 6 (45-2)","t":481.2,"v":-35},{"series":"Gauge 6 (45-2)","t":481.5,"v":-10},{"series":"Gauge 6 (45-2)","t":481.9,"v":30},{"series":"Gauge 6 (45-2)","t":482.13,"v":70},{"series":"Gauge 6 (45-2)","t":482.3,"v":95},{"series":"Gauge 6 (45-2)","t":482.56,"v":110},{"series":"Gauge 6 (45-2)","t":482.77,"v":130},{"series":"Gauge 6 (45-2)","t":483.21,"v":155},{"series":"Gauge 6 (45-2)","t":483.64,"v":168},{"series":"Gauge 6 (45-2)","t":484.07,"v":176},{"series":"Gauge 6 (45-2)","t":484.5,"v":182},{"series":"Gauge 6 (45-2)","t":485.15,"v":178},{"series":"Gauge 6 (45-2)","t":486.23,"v":171},{"series":"Gauge 6 (45-2)","t":487.3,"v":168},{"series":"Gauge 6 (45-2)","t":489.25,"v":166},{"series":"Gauge 6 (45-2)","t":492,"v":163},{"series":"Gauge 6 (45-2)","t":495,"v":160},{"series":"Gauge 6 (45-2)","t":498,"v":158},{"series":"Gauge 6 (45-2)","t":501,"v":156},{"series":"Gauge 6 (45-2)","t":503,"v":154},{"series":"Gauge 6 (45-2)","t":505.4,"v":152},{"series":"Gauge 6 (45-2)","t":506.5,"v":150},{"series":"Gauge 6 (45-2)","t":508,"v":152},{"series":"Gauge 6 (45-2)","t":510,"v":154},{"series":"Gauge 6 (45-2)","t":513,"v":156},{"series":"Gauge 6 (45-2)","t":516,"v":158},{"series":"Gauge 6 (45-2)","t":519,"v":160},{"series":"Gauge 6 (45-2)","t":522,"v":161},{"series":"Gauge 6 (45-2)","t":523.2,"v":162},{"series":"Gauge 6 (45-2)","t":523.6,"v":170},{"series":"Gauge 6 (45-2)","t":525,"v":173},{"series":"Gauge 6 (45-2)","t":528,"v":175},{"series":"Gauge 6 (45-2)","t":532,"v":176},{"series":"Gauge 6 (45-2)","t":536,"v":177},{"series":"Gauge 6 (45-2)","t":538.9,"v":178},{"series":"Gauge 6 (45-2)","t":539.1,"v":160},{"series":"Gauge 6 (45-2)","t":540,"v":163},{"series":"Gauge 6 (45-2)","t":542,"v":172},{"series":"Gauge 6 (45-2)","t":544,"v":180},{"series":"Gauge 6 (45-2)","t":546,"v":185},{"series":"Gauge 6 (45-2)","t":548,"v":188},{"series":"Gauge 6 (45-2)","t":550,"v":190},
{"series":"Gauge 7 (L-3)","t":458,"v":0},{"series":"Gauge 7 (L-3)","t":460,"v":0},{"series":"Gauge 7 (L-3)","t":462,"v":-2},{"series":"Gauge 7 (L-3)","t":463.6,"v":-4},{"series":"Gauge 7 (L-3)","t":464,"v":-5},{"series":"Gauge 7 (L-3)","t":466,"v":-5},{"series":"Gauge 7 (L-3)","t":468,"v":-5},{"series":"Gauge 7 (L-3)","t":470,"v":-5},{"series":"Gauge 7 (L-3)","t":471.2,"v":-5},{"series":"Gauge 7 (L-3)","t":471.3,"v":-9},{"series":"Gauge 7 (L-3)","t":473,"v":-9},{"series":"Gauge 7 (L-3)","t":475,"v":-10},{"series":"Gauge 7 (L-3)","t":476.3,"v":-9},{"series":"Gauge 7 (L-3)","t":477.3,"v":-9},{"series":"Gauge 7 (L-3)","t":478.5,"v":-12},{"series":"Gauge 7 (L-3)","t":479.3,"v":-14},{"series":"Gauge 7 (L-3)","t":479.75,"v":-17},{"series":"Gauge 7 (L-3)","t":480.6,"v":-5},{"series":"Gauge 7 (L-3)","t":481.05,"v":1.5},{"series":"Gauge 7 (L-3)","t":481.37,"v":42},{"series":"Gauge 7 (L-3)","t":481.6,"v":98},{"series":"Gauge 7 (L-3)","t":481.8,"v":147},{"series":"Gauge 7 (L-3)","t":481.91,"v":154},{"series":"Gauge 7 (L-3)","t":482.13,"v":80},{"series":"Gauge 7 (L-3)","t":482.34,"v":-13},{"series":"Gauge 7 (L-3)","t":482.6,"v":-107},{"series":"Gauge 7 (L-3)","t":482.99,"v":-122},{"series":"Gauge 7 (L-3)","t":483.4,"v":-99},{"series":"Gauge 7 (L-3)","t":483.85,"v":-51},{"series":"Gauge 7 (L-3)","t":484.3,"v":-30},{"series":"Gauge 7 (L-3)","t":484.7,"v":-24},{"series":"Gauge 7 (L-3)","t":485.4,"v":-22},{"series":"Gauge 7 (L-3)","t":485.7,"v":-13},{"series":"Gauge 7 (L-3)","t":486.5,"v":-11},{"series":"Gauge 7 (L-3)","t":487.6,"v":-10},{"series":"Gauge 7 (L-3)","t":489.7,"v":-6},{"series":"Gauge 7 (L-3)","t":491.9,"v":-3},{"series":"Gauge 7 (L-3)","t":494,"v":0},{"series":"Gauge 7 (L-3)","t":496.2,"v":2},{"series":"Gauge 7 (L-3)","t":498.3,"v":5},{"series":"Gauge 7 (L-3)","t":500.5,"v":7},{"series":"Gauge 7 (L-3)","t":503,"v":9},{"series":"Gauge 7 (L-3)","t":505.4,"v":10},{"series":"Gauge 7 (L-3)","t":507,"v":9},{"series":"Gauge 7 (L-3)","t":509.2,"v":9},{"series":"Gauge 7 (L-3)","t":512.6,"v":9},{"series":"Gauge 7 (L-3)","t":515.7,"v":8.2},{"series":"Gauge 7 (L-3)","t":520,"v":7.7},{"series":"Gauge 7 (L-3)","t":523,"v":7.2},{"series":"Gauge 7 (L-3)","t":523.4,"v":19.8},{"series":"Gauge 7 (L-3)","t":524.3,"v":23.9},{"series":"Gauge 7 (L-3)","t":528.6,"v":24.4},{"series":"Gauge 7 (L-3)","t":530.8,"v":26},{"series":"Gauge 7 (L-3)","t":535.1,"v":25.2},{"series":"Gauge 7 (L-3)","t":538.9,"v":25.8},{"series":"Gauge 7 (L-3)","t":539.1,"v":29.3},{"series":"Gauge 7 (L-3)","t":541.6,"v":29.8},{"series":"Gauge 7 (L-3)","t":543.8,"v":31.2},{"series":"Gauge 7 (L-3)","t":547.7,"v":32.5},{"series":"Gauge 7 (L-3)","t":550,"v":33.9},
{"series":"Gauge 8 (T-3)","t":458,"v":0},{"series":"Gauge 8 (T-3)","t":460.1,"v":1},{"series":"Gauge 8 (T-3)","t":462.3,"v":3},{"series":"Gauge 8 (T-3)","t":463.1,"v":5},{"series":"Gauge 8 (T-3)","t":463.8,"v":10},{"series":"Gauge 8 (T-3)","t":464.2,"v":8},{"series":"Gauge 8 (T-3)","t":466,"v":9},{"series":"Gauge 8 (T-3)","t":468,"v":8},{"series":"Gauge 8 (T-3)","t":470,"v":8},{"series":"Gauge 8 (T-3)","t":472,"v":6},{"series":"Gauge 8 (T-3)","t":474,"v":6},{"series":"Gauge 8 (T-3)","t":475.2,"v":9},{"series":"Gauge 8 (T-3)","t":476.3,"v":8},{"series":"Gauge 8 (T-3)","t":477.3,"v":10},{"series":"Gauge 8 (T-3)","t":477.6,"v":13},{"series":"Gauge 8 (T-3)","t":478.5,"v":18},{"series":"Gauge 8 (T-3)","t":479.75,"v":28},{"series":"Gauge 8 (T-3)","t":480.6,"v":35},{"series":"Gauge 8 (T-3)","t":481.05,"v":40},{"series":"Gauge 8 (T-3)","t":481.37,"v":41},{"series":"Gauge 8 (T-3)","t":481.6,"v":35},{"series":"Gauge 8 (T-3)","t":481.8,"v":27},{"series":"Gauge 8 (T-3)","t":482.1,"v":50},{"series":"Gauge 8 (T-3)","t":482.5,"v":80},{"series":"Gauge 8 (T-3)","t":482.99,"v":100},{"series":"Gauge 8 (T-3)","t":483.2,"v":90},{"series":"Gauge 8 (T-3)","t":483.42,"v":61},{"series":"Gauge 8 (T-3)","t":483.85,"v":24},{"series":"Gauge 8 (T-3)","t":484.5,"v":-10},{"series":"Gauge 8 (T-3)","t":484.9,"v":-25},{"series":"Gauge 8 (T-3)","t":485.4,"v":-50},{"series":"Gauge 8 (T-3)","t":485.8,"v":-66},{"series":"Gauge 8 (T-3)","t":486.4,"v":-91},{"series":"Gauge 8 (T-3)","t":487.3,"v":-91},{"series":"Gauge 8 (T-3)","t":488.5,"v":-88},{"series":"Gauge 8 (T-3)","t":489.25,"v":-81},{"series":"Gauge 8 (T-3)","t":491.9,"v":-73},{"series":"Gauge 8 (T-3)","t":494,"v":-67},{"series":"Gauge 8 (T-3)","t":496.2,"v":-62.5},{"series":"Gauge 8 (T-3)","t":498.3,"v":-60},{"series":"Gauge 8 (T-3)","t":500.5,"v":-57},{"series":"Gauge 8 (T-3)","t":503,"v":-54},{"series":"Gauge 8 (T-3)","t":505.4,"v":-51.7},{"series":"Gauge 8 (T-3)","t":507,"v":-53},{"series":"Gauge 8 (T-3)","t":509.2,"v":-54},{"series":"Gauge 8 (T-3)","t":512.6,"v":-55.8},{"series":"Gauge 8 (T-3)","t":515.7,"v":-57.1},{"series":"Gauge 8 (T-3)","t":520,"v":-57.7},{"series":"Gauge 8 (T-3)","t":523,"v":-58.5},{"series":"Gauge 8 (T-3)","t":523.4,"v":-46.3},{"series":"Gauge 8 (T-3)","t":524.3,"v":-40.9},{"series":"Gauge 8 (T-3)","t":528.6,"v":-39.6},{"series":"Gauge 8 (T-3)","t":530.8,"v":-38.2},{"series":"Gauge 8 (T-3)","t":535.1,"v":-36.9},{"series":"Gauge 8 (T-3)","t":538.9,"v":-35.5},{"series":"Gauge 8 (T-3)","t":539.1,"v":-32.8},{"series":"Gauge 8 (T-3)","t":539.4,"v":-30.1},{"series":"Gauge 8 (T-3)","t":541.6,"v":-28},{"series":"Gauge 8 (T-3)","t":543.8,"v":-26},{"series":"Gauge 8 (T-3)","t":547,"v":-24.2},{"series":"Gauge 8 (T-3)","t":550,"v":-21.5},
{"series":"Gauge 9 (45-3)","t":458,"v":0},{"series":"Gauge 9 (45-3)","t":460.1,"v":1},{"series":"Gauge 9 (45-3)","t":462.3,"v":4},{"series":"Gauge 9 (45-3)","t":463.1,"v":5},{"series":"Gauge 9 (45-3)","t":463.8,"v":10},{"series":"Gauge 9 (45-3)","t":464.2,"v":8},{"series":"Gauge 9 (45-3)","t":465.5,"v":7},{"series":"Gauge 9 (45-3)","t":467,"v":6},{"series":"Gauge 9 (45-3)","t":469,"v":6},{"series":"Gauge 9 (45-3)","t":471,"v":5},{"series":"Gauge 9 (45-3)","t":473,"v":6},{"series":"Gauge 9 (45-3)","t":475,"v":6},{"series":"Gauge 9 (45-3)","t":476.3,"v":5},{"series":"Gauge 9 (45-3)","t":477.3,"v":3},{"series":"Gauge 9 (45-3)","t":478.5,"v":2},{"series":"Gauge 9 (45-3)","t":479.75,"v":2},{"series":"Gauge 9 (45-3)","t":480.3,"v":5},{"series":"Gauge 9 (45-3)","t":480.8,"v":10},{"series":"Gauge 9 (45-3)","t":481.3,"v":40},{"series":"Gauge 9 (45-3)","t":481.7,"v":100},{"series":"Gauge 9 (45-3)","t":482.0,"v":143},{"series":"Gauge 9 (45-3)","t":482.2,"v":120},{"series":"Gauge 9 (45-3)","t":482.4,"v":80},{"series":"Gauge 9 (45-3)","t":482.6,"v":60},{"series":"Gauge 9 (45-3)","t":483.0,"v":46},{"series":"Gauge 9 (45-3)","t":483.4,"v":48},{"series":"Gauge 9 (45-3)","t":484.0,"v":42},{"series":"Gauge 9 (45-3)","t":484.5,"v":30},{"series":"Gauge 9 (45-3)","t":485.2,"v":13},{"series":"Gauge 9 (45-3)","t":485.8,"v":0},{"series":"Gauge 9 (45-3)","t":486.5,"v":-8},{"series":"Gauge 9 (45-3)","t":486.8,"v":-8.5},{"series":"Gauge 9 (45-3)","t":487.5,"v":-6},{"series":"Gauge 9 (45-3)","t":489.7,"v":-2},{"series":"Gauge 9 (45-3)","t":492,"v":2},{"series":"Gauge 9 (45-3)","t":494,"v":5},{"series":"Gauge 9 (45-3)","t":497.3,"v":10.4},{"series":"Gauge 9 (45-3)","t":500.5,"v":12.6},{"series":"Gauge 9 (45-3)","t":505.4,"v":15.8},{"series":"Gauge 9 (45-3)","t":507,"v":14},{"series":"Gauge 9 (45-3)","t":509.2,"v":13.1},{"series":"Gauge 9 (45-3)","t":512.6,"v":11},{"series":"Gauge 9 (45-3)","t":513.5,"v":9.9},{"series":"Gauge 9 (45-3)","t":518,"v":10},{"series":"Gauge 9 (45-3)","t":522,"v":10},{"series":"Gauge 9 (45-3)","t":523,"v":7.2},{"series":"Gauge 9 (45-3)","t":523.3,"v":22.5},{"series":"Gauge 9 (45-3)","t":523.8,"v":26},{"series":"Gauge 9 (45-3)","t":526.5,"v":27.1},{"series":"Gauge 9 (45-3)","t":528.6,"v":28.5},{"series":"Gauge 9 (45-3)","t":537.3,"v":28.5},{"series":"Gauge 9 (45-3)","t":538.9,"v":28},{"series":"Gauge 9 (45-3)","t":539.1,"v":33.3},{"series":"Gauge 9 (45-3)","t":541.6,"v":34.2},{"series":"Gauge 9 (45-3)","t":543.8,"v":36},{"series":"Gauge 9 (45-3)","t":547.7,"v":37.9},{"series":"Gauge 9 (45-3)","t":550,"v":38.7}
]
},
"resolve": {"scale": {"y": "independent"}},
"layer": [
{
  "data": {"name": "temp"},
  "mark": {"type": "line", "color": "#FF00FF", "strokeWidth": 1.7, "clip": true},
  "encoding": {
    "x": {"field": "t", "type": "quantitative", "scale": {"domain": [458, 550], "nice": false, "zero": false}, "axis": null},
    "y": {"field": "T", "type": "quantitative", "scale": {"domain": [0, 16], "nice": false, "zero": false},
      "axis": {"orient": "right", "values": [0,2,4,6,8,10,12,14,16], "format": ".1f", "tickSize": 6, "labelPadding": 10, "grid": false,
        "title": "Temperature [°]", "titleAngle": 0, "titleAlign": "left", "titleBaseline": "alphabetic", "titleX": -38.5, "titleY": -18.7,
        "titleFont": "DejaVu Sans", "titleFontSize": 20, "titleFontWeight": "bold"}}
  }
},
{
  "transform": [{"filter": "datum.series === 'Gauge 1 (L-1)'"}],
  "mark": {"type": "line", "clip": true, "color": "#FF0000", "strokeWidth": 5.5, "strokeJoin": "round"},
  "encoding": {
    "x": {"field": "t", "type": "quantitative", "scale": {"domain": [458, 550], "nice": false, "zero": false},
      "axis": {"values": [458,468,478,488,498,508,518,528,538,548], "labelExpr": "floor(datum.value/60) + ':' + (datum.value % 60 < 10 ? '0' : '') + (datum.value % 60)",
        "tickSize": 7, "labelPadding": 14, "grid": false, "title": "Time", "titleFont": "Liberation Sans", "titleFontSize": 20, "titleFontWeight": "bold",
        "titleX": 710, "titleY": 65.5, "titleBaseline": "alphabetic", "titleAlign": "center"}},
    "y": {"field": "v", "type": "quantitative", "scale": {"domain": [-200, 500], "nice": false, "zero": false},
      "axis": {"values": [-200,-180,-160,-140,-120,-100,-80,-60,-40,-20,0,20,40,60,80,100,120,140,160,180,200,220,240,260,280,300,320,340,360,380,400,420,440,460,480,500],
        "labelExpr": "datum.value % 100 === 0 ? '' + datum.value : ''", "tickSize": 6, "labelPadding": 11,
        "grid": true, "gridColor": "black", "gridDash": [7, 5], "gridWidth": 1,
        "gridOpacity": {"condition": {"test": "datum.value % 100 === 0 && datum.value > -200 && datum.value < 500", "value": 1}, "value": 0},
        "title": "Microstrain", "titleAngle": 0, "titleAlign": "left", "titleBaseline": "alphabetic", "titleX": -59, "titleY": -18.7,
        "titleFont": "DejaVu Sans", "titleFontSize": 20, "titleFontWeight": "bold"}}
  }
},
{"transform": [{"filter": "datum.series === 'Gauge 2 (T-1)'"}], "mark": {"type": "line", "clip": true, "color": "#00FF00", "strokeWidth": 5.5, "strokeJoin": "round"},
 "encoding": {"x": {"field": "t", "type": "quantitative", "axis": null}, "y": {"field": "v", "type": "quantitative", "scale": {"domain": [-200, 500], "nice": false, "zero": false}, "axis": null}}},
{"transform": [{"filter": "datum.series === 'Gauge 3 (45-1)'"}], "mark": {"type": "line", "clip": true, "color": "#3366FF", "strokeWidth": 5.5, "strokeJoin": "round"},
 "encoding": {"x": {"field": "t", "type": "quantitative", "axis": null}, "y": {"field": "v", "type": "quantitative", "scale": {"domain": [-200, 500], "nice": false, "zero": false}, "axis": null}}},
{"transform": [{"filter": "datum.series === 'Gauge 4 (L-2)'"}], "mark": {"type": "line", "clip": true, "color": "#FF0000", "strokeWidth": 3.5, "strokeJoin": "round"},
 "encoding": {"x": {"field": "t", "type": "quantitative", "axis": null}, "y": {"field": "v", "type": "quantitative", "scale": {"domain": [-200, 500], "nice": false, "zero": false}, "axis": null}}},
{"transform": [{"filter": "datum.series === 'Gauge 5 (T-2)'"}], "mark": {"type": "line", "clip": true, "color": "#00FF00", "strokeWidth": 3.5, "strokeJoin": "round"},
 "encoding": {"x": {"field": "t", "type": "quantitative", "axis": null}, "y": {"field": "v", "type": "quantitative", "scale": {"domain": [-200, 500], "nice": false, "zero": false}, "axis": null}}},
{"transform": [{"filter": "datum.series === 'Gauge 6 (45-2)'"}], "mark": {"type": "line", "clip": true, "color": "#3366FF", "strokeWidth": 3.5, "strokeJoin": "round"},
 "encoding": {"x": {"field": "t", "type": "quantitative", "axis": null}, "y": {"field": "v", "type": "quantitative", "scale": {"domain": [-200, 500], "nice": false, "zero": false}, "axis": null}}},
{"transform": [{"filter": "datum.series === 'Gauge 7 (L-3)'"}], "mark": {"type": "line", "clip": true, "color": "#FF0000", "strokeWidth": 1.8, "strokeJoin": "round"},
 "encoding": {"x": {"field": "t", "type": "quantitative", "axis": null}, "y": {"field": "v", "type": "quantitative", "scale": {"domain": [-200, 500], "nice": false, "zero": false}, "axis": null}}},
{"transform": [{"filter": "datum.series === 'Gauge 8 (T-3)'"}], "mark": {"type": "line", "clip": true, "color": "#00FF00", "strokeWidth": 1.8, "strokeJoin": "round"},
 "encoding": {"x": {"field": "t", "type": "quantitative", "axis": null}, "y": {"field": "v", "type": "quantitative", "scale": {"domain": [-200, 500], "nice": false, "zero": false}, "axis": null}}},
{"transform": [{"filter": "datum.series === 'Gauge 9 (45-3)'"}], "mark": {"type": "line", "clip": true, "color": "#3366FF", "strokeWidth": 1.8, "strokeJoin": "round"},
 "encoding": {"x": {"field": "t", "type": "quantitative", "axis": null}, "y": {"field": "v", "type": "quantitative", "scale": {"domain": [-200, 500], "nice": false, "zero": false}, "axis": null}}},
{"data": {"name": "events"}, "transform": [{"filter": "datum.series === 'OC Start' || datum.series === 'OC Stop'"}],
 "mark": {"type": "rule", "color": "black", "strokeWidth": 4, "strokeDash": [28, 13]},
 "encoding": {"x": {"field": "t", "type": "quantitative", "axis": null}}},
{"data": {"name": "events"}, "transform": [{"filter": "datum.series === 'OC 16 cm'"}],
 "mark": {"type": "rule", "color": "black", "strokeWidth": 1.5},
 "encoding": {"x": {"field": "t", "type": "quantitative", "axis": null}}},
{"data": {"name": "events"}, "transform": [{"filter": "datum.series === 'Core Break'"}],
 "mark": {"type": "rule", "color": "black", "strokeWidth": 1.3, "strokeDash": [11, 6]},
 "encoding": {"x": {"field": "t", "type": "quantitative", "axis": null}}},
{"data": {"name": "events"}, "transform": [{"filter": "datum.series === 'OC 16 cm' || datum.series === 'Core Break'"}],
 "mark": {"type": "point", "shape": "square", "filled": true, "color": "white", "opacity": 1, "size": 400, "strokeWidth": 0},
 "encoding": {"x": {"field": "t", "type": "quantitative", "axis": null}, "y": {"datum": 500, "type": "quantitative", "scale": {"domain": [-200, 500], "nice": false, "zero": false}, "axis": null}}},
{"data": {"name": "events"}, "transform": [{"filter": "datum.series === 'OC 16 cm' || datum.series === 'Core Break'"}],
 "mark": {"type": "point", "shape": "square", "filled": true, "color": "white", "opacity": 1, "size": 400, "strokeWidth": 0},
 "encoding": {"x": {"field": "t", "type": "quantitative", "axis": null}, "y": {"datum": -200, "type": "quantitative", "scale": {"domain": [-200, 500], "nice": false, "zero": false}, "axis": null}}},
{"data": {"name": "events"}, "transform": [{"filter": "datum.series === 'OC Start'"}],
 "mark": {"type": "point", "shape": "circle", "filled": true, "fill": "white", "stroke": "black", "strokeWidth": 2, "opacity": 1, "size": 240},
 "encoding": {"x": {"field": "t", "type": "quantitative", "axis": null}, "y": {"datum": 500, "type": "quantitative", "scale": {"domain": [-200, 500], "nice": false, "zero": false}, "axis": null}}},
{"data": {"name": "events"}, "transform": [{"filter": "datum.series === 'OC Start'"}],
 "mark": {"type": "point", "shape": "circle", "filled": true, "fill": "white", "stroke": "black", "strokeWidth": 2, "opacity": 1, "size": 240},
 "encoding": {"x": {"field": "t", "type": "quantitative", "axis": null}, "y": {"datum": -200, "type": "quantitative", "scale": {"domain": [-200, 500], "nice": false, "zero": false}, "axis": null}}},
{"data": {"name": "events"}, "transform": [{"filter": "datum.series === 'OC Stop'"}],
 "mark": {"type": "point", "shape": "square", "filled": true, "fill": "white", "stroke": "black", "strokeWidth": 2, "opacity": 1, "size": 230},
 "encoding": {"x": {"field": "t", "type": "quantitative", "axis": null}, "y": {"datum": 500, "type": "quantitative", "scale": {"domain": [-200, 500], "nice": false, "zero": false}, "axis": null}}},
{"data": {"name": "events"}, "transform": [{"filter": "datum.series === 'OC Stop'"}],
 "mark": {"type": "point", "shape": "square", "filled": true, "fill": "white", "stroke": "black", "strokeWidth": 2, "opacity": 1, "size": 230},
 "encoding": {"x": {"field": "t", "type": "quantitative", "axis": null}, "y": {"datum": -200, "type": "quantitative", "scale": {"domain": [-200, 500], "nice": false, "zero": false}, "axis": null}}},
{"data": {"name": "events"}, "transform": [{"filter": "datum.series === 'OC 16 cm'"}],
 "mark": {"type": "point", "shape": "M-1,-1L1,1M-1,1L1,-1", "filled": false, "color": "black", "strokeWidth": 2, "opacity": 1, "size": 240},
 "encoding": {"x": {"field": "t", "type": "quantitative", "axis": null}, "y": {"datum": 500, "type": "quantitative", "scale": {"domain": [-200, 500], "nice": false, "zero": false}, "axis": null}}},
{"data": {"name": "events"}, "transform": [{"filter": "datum.series === 'OC 16 cm'"}],
 "mark": {"type": "point", "shape": "M-1,-1L1,1M-1,1L1,-1", "filled": false, "color": "black", "strokeWidth": 2, "opacity": 1, "size": 240},
 "encoding": {"x": {"field": "t", "type": "quantitative", "axis": null}, "y": {"datum": -200, "type": "quantitative", "scale": {"domain": [-200, 500], "nice": false, "zero": false}, "axis": null}}},
{"data": {"name": "events"}, "transform": [{"filter": "datum.series === 'Core Break'"}],
 "mark": {"type": "point", "shape": "M-0.8,-1L0.8,1M-0.8,1L0.8,-1M0,-1L0,1", "filled": false, "color": "black", "strokeWidth": 1.5, "opacity": 1, "size": 150},
 "encoding": {"x": {"field": "t", "type": "quantitative", "axis": null}, "y": {"datum": 500, "type": "quantitative", "scale": {"domain": [-200, 500], "nice": false, "zero": false}, "axis": null}}},
{"data": {"name": "events"}, "transform": [{"filter": "datum.series === 'Core Break'"}],
 "mark": {"type": "point", "shape": "M-0.8,-1L0.8,1M-0.8,1L0.8,-1M0,-1L0,1", "filled": false, "color": "black", "strokeWidth": 1.5, "opacity": 1, "size": 150},
 "encoding": {"x": {"field": "t", "type": "quantitative", "axis": null}, "y": {"datum": -200, "type": "quantitative", "scale": {"domain": [-200, 500], "nice": false, "zero": false}, "axis": null}}},
{"data": {"values": [{}]},
 "mark": {"type": "text", "text": "Test 2:2:1", "align": "left", "baseline": "alphabetic", "font": "Liberation Sans", "fontWeight": "bold", "fontSize": 25, "color": "black"},
 "encoding": {"x": {"datum": 460.14, "type": "quantitative", "axis": null}, "y": {"datum": 434.4, "type": "quantitative", "scale": {"domain": [-200, 500], "nice": false, "zero": false}, "axis": null}}},
{"data": {"name": "legend"},
 "mark": {"type": "point", "filled": false, "clip": true, "opacity": 1},
 "encoding": {
   "x": {"datum": 0, "type": "quantitative", "axis": null},
   "y": {"datum": -1000, "type": "quantitative", "scale": {"domain": [-200, 500], "nice": false, "zero": false}, "axis": null},
   "shape": {"field": "series", "type": "nominal",
     "scale": {"domain": ["Gauge 1 (L-1)","Gauge 2 (T-1)","Gauge 3 (45-1)","Gauge 4 (L-2)","Gauge 5 (T-2)","Gauge 6 (45-2)","Gauge 7 (L-3)","Gauge 8 (T-3)","Gauge 9 (45-3)","OC Start","OC 16 cm","OC Stop","Core Break","Temperature"],
       "range": ["M-1,0L1,0","M-1,0L1,0","M-1,0L1,0","M-1,0L1,0","M-1,0L1,0","M-1,0L1,0","M-1,0L1,0","M-1,0L1,0","M-1,0L1,0",
         "M-1,0L-0.19,0M0.19,0L0.68,0M0.19,0A0.19,0.19 0 1 0 -0.19,0A0.19,0.19 0 1 0 0.19,0",
         "M-1,0L-0.33,0M0.31,0L0.98,0M-0.21,-0.19L0.17,0.19M-0.21,0.19L0.17,-0.19",
         "M-1,0L-0.22,0M0.16,0L0.68,0M-0.22,-0.2L0.16,-0.2L0.16,0.2L-0.22,0.2Z",
         "M-0.96,0L-0.74,0M-0.44,0L-0.22,0M0.26,0L0.38,0M0.55,0L0.9,0M-0.16,-0.16L0.12,0.16M-0.16,0.16L0.12,-0.16M-0.02,-0.18L-0.02,0.18",
         "M-1,0L1,0"]},
     "legend": {"orient": "none", "legendX": 1508, "legendY": 97, "title": null, "symbolSize": 7056, "clipHeight": 28, "rowPadding": 23.2,
       "labelFont": "Liberation Sans", "labelFontSize": 24, "labelColor": "black", "labelOffset": 4, "labelLimit": 0, "symbolOffset": 0, "padding": 0}},
   "color": {"field": "series", "type": "nominal",
     "scale": {"domain": ["Gauge 1 (L-1)","Gauge 2 (T-1)","Gauge 3 (45-1)","Gauge 4 (L-2)","Gauge 5 (T-2)","Gauge 6 (45-2)","Gauge 7 (L-3)","Gauge 8 (T-3)","Gauge 9 (45-3)","OC Start","OC 16 cm","OC Stop","Core Break","Temperature"],
       "range": ["#FF0000","#00FF00","#3366FF","#FF0000","#00FF00","#3366FF","#FF0000","#00FF00","#3366FF","#000000","#000000","#000000","#000000","#FF00FF"]},
     "legend": {"orient": "none", "legendX": 1508, "legendY": 97, "title": null, "symbolSize": 7056, "clipHeight": 28, "rowPadding": 23.2,
       "labelFont": "Liberation Sans", "labelFontSize": 24, "labelColor": "black", "labelOffset": 4, "labelLimit": 0, "symbolOffset": 0, "padding": 0}},
   "strokeWidth": {"field": "series", "type": "nominal",
     "scale": {"type": "ordinal", "domain": ["Gauge 1 (L-1)","Gauge 2 (T-1)","Gauge 3 (45-1)","Gauge 4 (L-2)","Gauge 5 (T-2)","Gauge 6 (45-2)","Gauge 7 (L-3)","Gauge 8 (T-3)","Gauge 9 (45-3)","OC Start","OC 16 cm","OC Stop","Core Break","Temperature"],
       "range": [5,5,5,3.5,3.5,3.5,1.7,1.7,1.7,3,1.5,3,1.5,1.7]},
     "legend": {"orient": "none", "legendX": 1508, "legendY": 97, "title": null, "symbolSize": 7056, "clipHeight": 28, "rowPadding": 23.2,
       "labelFont": "Liberation Sans", "labelFontSize": 24, "labelColor": "black", "labelOffset": 4, "labelLimit": 0, "symbolOffset": 0, "padding": 0}}
 }}
]
}
